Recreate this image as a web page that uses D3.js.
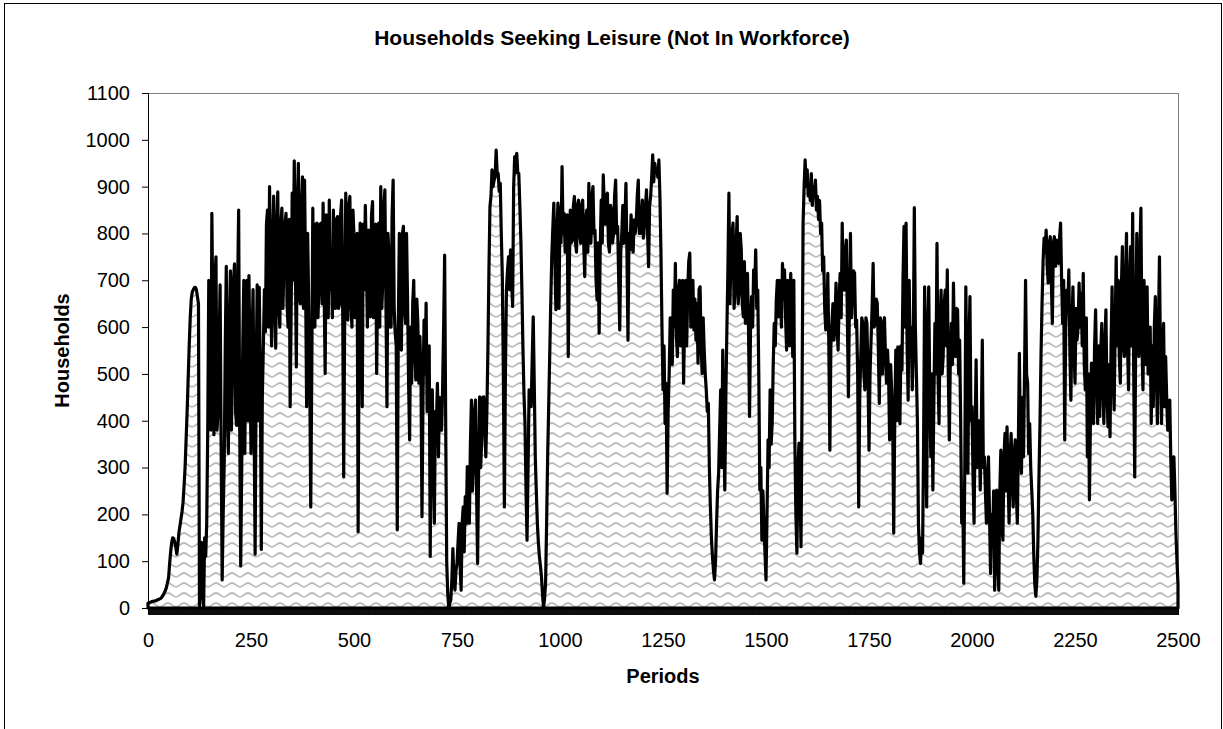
<!DOCTYPE html>
<html>
<head>
<meta charset="utf-8">
<script src="https://cdn.jsdelivr.net/npm/d3@7"></script>
<style>
  html, body { margin: 0; padding: 0; background: #fff; }
  svg { display: block; }
  text { font-family: Arial, "Liberation Sans", sans-serif; }
</style>
</head>
<body>
<script>
// ---- Data ----
const chartTitle = "Households Seeking Leisure (Not In Workforce)";
const xTitle = "Periods";
const yTitle = "Households";
const halfStep = 2.5; // values are read every 2.5 periods
const xTickLabels = [0, 250, 500, 750, 1000, 1250, 1500, 1750, 2000, 2250, 2500];
const yTickLabels = [0, 100, 200, 300, 400, 500, 600, 700, 800, 900, 1000, 1100];

// values at periods 0, 5, 10, ... 2500
const households = [
  10,12,14,15,16,18,20,25,33,45,
  65,120,150,140,115,160,190,225,300,420,
  560,660,680,685,665,0,140,5,110,380,
  520,843,370,750,420,690,60,310,730,330,
  720,520,735,390,850,90,560,330,700,710,
  330,680,115,690,685,125,560,590,850,900,
  560,880,555,889,600,854,736,843,600,430,
  886,955,515,950,650,921,914,430,650,216,
  854,600,822,686,822,865,501,679,871,750,
  850,640,836,650,871,280,886,615,879,600,
  793,620,163,822,430,680,750,807,622,868,
  650,501,822,900,700,893,430,750,600,914,
  587,167,800,551,815,608,658,359,480,700,
  487,608,580,195,615,651,523,110,466,181,
  394,323,423,466,754,100,0,17,127,38,
  95,181,38,216,238,302,181,444,309,444,
  95,451,359,451,323,551,857,936,914,978,
  928,907,708,216,679,750,765,644,964,971,
  928,786,558,394,145,466,430,622,323,181,
  110,67,0,53,323,537,750,865,637,865,
  857,943,843,765,537,850,786,879,760,871,
  779,871,708,850,907,779,900,807,658,587,
  871,925,820,886,760,850,800,914,815,594,
  800,779,907,572,765,800,829,822,914,800,
  871,822,893,729,879,968,950,936,957,760,
  466,394,245,501,600,679,736,537,700,608,
  480,700,679,758,665,594,572,523,686,501,
  551,466,437,216,110,60,180,288,466,551,
  252,594,886,750,822,679,836,679,765,622,
  608,715,409,665,722,765,679,252,145,181,
  60,359,466,394,608,658,622,679,736,722,
  551,651,715,537,359,117,352,131,822,957,
  936,900,928,900,914,879,870,822,750,594,
  715,337,608,572,694,551,715,822,679,786,
  451,800,679,715,615,216,537,608,466,608,
  337,572,736,608,651,437,608,594,537,551,
  359,466,160,551,558,394,508,815,822,444,
  537,466,855,501,181,95,117,686,216,686,
  323,252,608,779,394,679,537,679,722,359,
  608,694,537,637,572,181,53,686,288,665,
  430,181,530,359,252,572,323,181,323,74,
  145,38,252,38,337,145,373,387,181,373,
  216,359,181,544,288,323,700,480,394,252,
  110,25,145,394,650,790,807,694,793,608,
  793,786,736,822,608,359,679,722,444,686,
  480,572,694,672,715,466,323,231,523,394,
  637,394,409,608,394,637,387,366,686,423,
  750,700,480,772,537,800,466,772,843,280,
  800,537,854,466,608,686,537,394,430,665,
  394,750,394,608,537,380,444,231,323,160,
  50
];

// values at periods 2.5, 7.5, 12.5, ... 2497.5
const householdsBetween = [
  11,13,14,15,17,19,22,29,38,55,
  95,140,148,130,135,175,205,260,360,490,
  620,675,684,680,650,60,30,150,180,700,
  380,620,700,380,560,350,200,560,420,600,
  380,700,420,680,400,300,700,620,400,540,
  560,400,500,400,500,450,680,820,600,700,
  780,640,820,640,820,640,820,650,830,640,
  700,760,860,660,860,640,700,800,500,500,
  650,820,620,820,650,680,840,620,680,620,
  650,830,640,840,640,640,660,860,650,850,
  620,800,600,650,820,860,600,640,840,620,
  820,700,600,640,860,650,800,600,840,640,
  560,600,600,800,640,800,480,600,650,550,
  660,480,500,450,500,420,560,450,300,420,
  480,450,380,600,400,30,10,60,60,80,
  140,90,180,120,180,240,350,250,420,250,
  300,300,450,380,420,720,880,900,920,930,
  890,800,500,500,720,680,700,900,930,930,
  860,680,460,250,300,450,530,480,250,140,
  90,30,20,180,430,650,810,750,800,640,
  780,800,760,840,720,780,860,780,860,800,
  860,780,830,760,800,880,800,700,780,760,
  780,860,880,780,860,780,880,800,700,760,
  860,820,760,800,840,760,800,880,800,840,
  790,860,800,860,920,910,930,920,880,600,
  560,480,420,620,520,600,580,680,560,700,
  620,560,740,600,700,660,650,680,560,620,
  500,420,300,150,80,100,250,380,300,380,
  450,720,650,800,640,780,650,800,650,740,
  660,600,600,600,680,640,500,300,250,120,
  200,300,350,520,560,700,700,600,660,620,
  700,560,620,700,200,300,250,450,900,900,
  880,870,860,880,850,830,800,720,640,600,
  560,560,650,620,600,660,620,680,760,620,
  650,620,720,600,500,450,620,500,620,500,
  500,640,600,660,560,620,500,620,480,500,
  520,400,400,400,480,560,700,600,560,700,
  600,560,600,400,120,150,350,400,600,450,
  500,450,500,500,600,500,650,560,500,540,
  520,560,640,500,400,250,300,500,550,400,
  280,380,300,400,380,300,250,280,200,200,
  250,150,100,250,180,320,250,280,320,280,
  330,250,350,350,450,500,500,330,300,200,
  50,60,280,540,740,760,730,780,700,780,
  730,780,790,700,700,600,640,550,600,560,
  640,600,600,560,520,620,500,400,480,560,
  500,560,550,480,560,460,520,560,500,600,
  560,540,680,560,700,560,700,560,500,600,
  560,760,560,700,520,500,600,560,600,500,
  600,520,560,430,450,380,320,300,250,100
];

// interleave the two read-off series into one sequence (period order)
const series = [];
households.forEach((v, i) => {
  series.push(v);
  if (i < householdsBetween.length) series.push(householdsBetween[i]);
});

// ---- Layout ----
const W = 1223, H = 729;
const plot = { left: 148, right: 1178, top: 93, bottom: 608 };
const fontStack = "Arial, 'Liberation Sans', sans-serif";

const svg = d3.select("body").append("svg")
  .attr("width", W).attr("height", H);

svg.append("rect").attr("x", 0).attr("y", 0).attr("width", W).attr("height", H).attr("fill", "#fff");

// outer chart border
svg.append("rect")
  .attr("x", 4.5).attr("y", 3.5).attr("width", 1217).attr("height", 760)
  .attr("fill", "none").attr("stroke", "#000").attr("stroke-width", 1);

const defs = svg.append("defs");
const pat = defs.append("pattern")
  .attr("id", "wave").attr("patternUnits", "userSpaceOnUse")
  .attr("width", 16).attr("height", 10);
pat.append("rect").attr("width", 16).attr("height", 10).attr("fill", "#fff");
pat.append("path")
  .attr("d", "M-1,7 C4,7 4,3 8,3 C12,3 12,7 17,7")
  .attr("fill", "none").attr("stroke", "#bcbcbc").attr("stroke-width", 1.8);

const x = d3.scaleLinear().domain([0, 2500]).range([plot.left, plot.right]);
const y = d3.scaleLinear().domain([0, 1100]).range([plot.bottom, plot.top]);

// plot area frame
svg.append("rect")
  .attr("x", plot.left + 0.5).attr("y", plot.top + 0.5)
  .attr("width", plot.right - plot.left).attr("height", plot.bottom - plot.top)
  .attr("fill", "#fff").attr("stroke", "#808080").attr("stroke-width", 1);

// area series
const area = d3.area()
  .x((d, i) => x(i * halfStep))
  .y0(y(0))
  .y1(d => y(d));

svg.append("path")
  .datum(series)
  .attr("d", area)
  .attr("fill", "url(#wave)")
  .attr("stroke", "#000")
  .attr("stroke-width", 3.2)
  .attr("stroke-linejoin", "round");

// dense category tick marks along the x axis
const minorTicks = d3.range(0, 2501, 1);
const xMinor = svg.append("g")
  .attr("transform", `translate(0,${plot.bottom})`)
  .call(d3.axisBottom(x).tickValues(minorTicks).tickSize(7).tickFormat(""));
xMinor.selectAll("line").attr("stroke", "#000").attr("stroke-width", 0.8);
xMinor.select(".domain").attr("stroke", "#000");

// x labels
const xAxis = svg.append("g")
  .attr("transform", `translate(0,${plot.bottom})`)
  .call(d3.axisBottom(x).tickValues(xTickLabels).tickSize(0).tickPadding(25)
    .tickFormat(d3.format("d")));
xAxis.select(".domain").remove();
xAxis.selectAll("text").attr("font-size", 20).attr("fill", "#000")
  .style("font-family", fontStack);

// y axis
const yAxis = svg.append("g")
  .attr("transform", `translate(${plot.left},0)`)
  .call(d3.axisLeft(y).tickValues(yTickLabels).tickSize(6).tickPadding(12)
    .tickFormat(d3.format("d")));
yAxis.select(".domain").attr("stroke", "#000");
yAxis.selectAll("line").attr("stroke", "#000");
yAxis.selectAll("text").attr("font-size", 20).attr("fill", "#000")
  .style("font-family", fontStack);

// titles
svg.append("text")
  .attr("x", 612).attr("y", 45)
  .attr("text-anchor", "middle")
  .attr("font-size", 21).attr("font-weight", "bold")
  .text(chartTitle);

svg.append("text")
  .attr("x", (plot.left + plot.right) / 2).attr("y", 683)
  .attr("text-anchor", "middle")
  .attr("font-size", 20).attr("font-weight", "bold")
  .text(xTitle);

svg.append("text")
  .attr("transform", `translate(69,${(plot.top + plot.bottom) / 2}) rotate(-90)`)
  .attr("text-anchor", "middle")
  .attr("font-size", 20).attr("font-weight", "bold")
  .text(yTitle);
</script>
</body>
</html>
